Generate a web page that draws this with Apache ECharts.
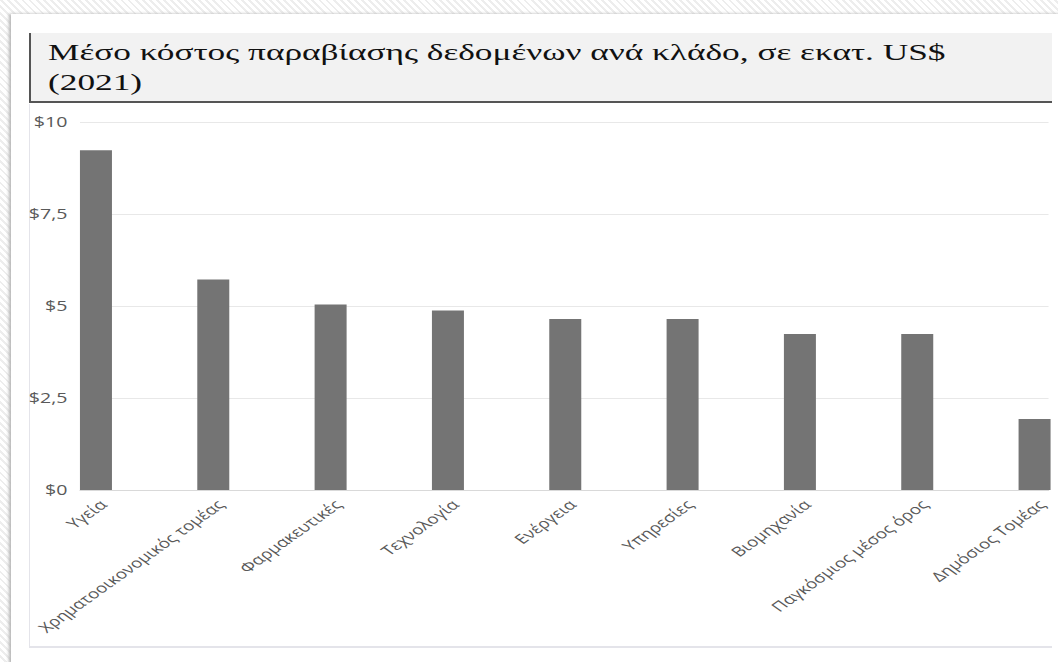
<!DOCTYPE html>
<html>
<head>
<meta charset="utf-8">
<script src="https://cdn.jsdelivr.net/npm/echarts@6/dist/echarts.min.js"></script>
<style>
  html, body {
    margin: 0;
    width: 1058px;
    height: 662px;
    overflow: hidden;
    background: repeating-linear-gradient(45deg, #ffffff 0px, #ffffff 3px, #ededed 3px, #ededed 5px);
  }
  #panel {
    position: absolute;
    left: 11px;
    top: 14px;
    width: 1060px;
    height: 660px;
    background: #fff;
    box-shadow: -2px 0 3px #b5b5b5;
  }
  #title {
    position: absolute;
    left: 29px;
    top: 33px;
    width: 1023px;
    height: 70px;
    background: #f2f2f2;
    border-left: 2px solid #555;
    border-bottom: 2px solid #555;
    box-sizing: border-box;
  }
  #title span {
    position: absolute;
    left: 17px;
    top: 5px;
    white-space: nowrap;
    font-family: "Liberation Serif", serif;
    font-size: 23px;
    line-height: 30px;
    color: #111;
    transform: scaleX(1.535);
    transform-origin: left top;
  }
  #box {
    position: absolute;
    left: 29px;
    top: 104px;
    width: 1023px;
    height: 544px;
    border-left: 1px solid #e4e4ea;
    border-bottom: 2px solid #e4e4ea;
    box-sizing: border-box;
  }
  #clip {
    position: absolute;
    left: 0;
    top: 0;
    width: 1052px;
    height: 646px;
    overflow: hidden;
  }
  /* the original picture is stretched horizontally: 1052 / 1.4 */
  #chart {
    position: absolute;
    left: 0;
    top: 0;
    width: 751.4px;
    height: 646px;
    transform: scaleX(1.4);
    transform-origin: left top;
  }
</style>
</head>
<body>
<div id="panel"></div>
<div id="title"><span>Μέσο κόστος παραβίασης δεδομένων ανά κλάδο, σε εκατ. US$<br>(2021)</span></div>
<div id="box"></div>
<div id="clip"><div id="chart"></div></div>
<script>
// κλάδοι και κόστος (εκατ. US$)
const categories = [
  'Υγεία',
  'Χρηματοοικονομικός τομέας',
  'Φαρμακευτικές',
  'Τεχνολογία',
  'Ενέργεια',
  'Υπηρεσίες',
  'Βιομηχανία',
  'Παγκόσμιος μέσος όρος',
  'Δημόσιος Τομέας'
];
const costs = [9.23, 5.72, 5.04, 4.88, 4.65, 4.65, 4.24, 4.24, 1.93];
const yTicks = [0, 2.5, 5, 7.5, 10];

const SX = 1.4;
const chart = echarts.init(document.getElementById('chart'), null, { renderer: 'svg' });

const option = {
  animation: false,
  grid: { left: 80 / SX, top: 122, width: 972 / SX, height: 368 },
  xAxis: {
    type: 'value',
    // το γράφημα είναι κομμένο αριστερά και δεξιά
    min: -0.136,
    max: 8.119,
    splitLine: { show: false },
    axisTick: { show: false },
    axisLine: { show: true, lineStyle: { color: '#d9d9d9', width: 1 } },
    axisLabel: {
      customValues: categories.map((c, i) => i),
      formatter: (v) => categories[Math.round(v)] || '',
      rotate: 45,
      margin: 7,
      verticalAlign: 'top',
      color: '#595959',
      fontFamily: 'Open Sans',
      fontSize: 13.5
    }
  },
  yAxis: {
    type: 'value',
    min: yTicks[0],
    max: yTicks[yTicks.length - 1],
    interval: 2.5,
    axisLine: { show: false },
    axisTick: { show: false },
    splitLine: { lineStyle: { color: '#e8e8e8', width: 1 } },
    axisLabel: {
      formatter: (v) => '$' + String(v).replace('.', ','),
      margin: 9,
      color: '#595959',
      fontFamily: 'Open Sans',
      fontSize: 14
    }
  },
  series: [
    {
      type: 'bar',
      data: costs.map((v, i) => [i, v]),
      barWidth: 32 / SX,
      clip: true,
      itemStyle: { color: '#747474' }
    }
  ]
};

chart.setOption(option);
</script>
</body>
</html>
